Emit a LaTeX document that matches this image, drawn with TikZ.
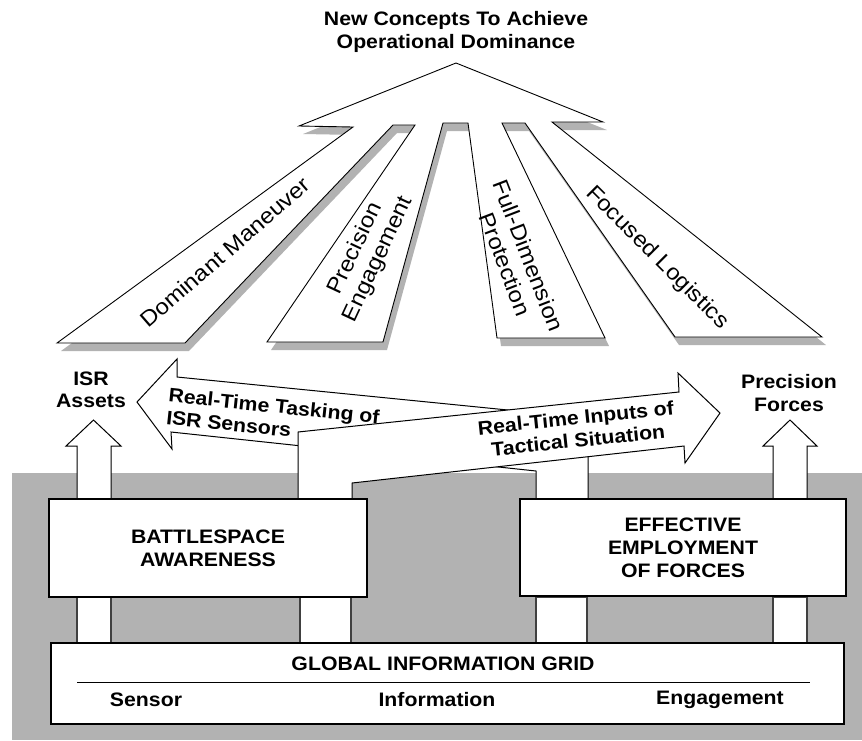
\documentclass[tikz,border=0pt]{standalone}
\usepackage{fontspec}
\setmainfont{Liberation Sans}[FakeStretch=1.09]
\usetikzlibrary{positioning,shadows}
\tikzset{
  fan/.style      = {fill=white, draw=black, line width=0.9pt, line join=miter,
                     drop shadow={fill=black!30, opacity=1, shadow xshift=4pt, shadow yshift=-8pt}},
  blockarrow/.style = {fill=white, draw=black, line width=1pt, line join=miter},
  post/.style     = {fill=white, draw=black!75, line width=1.2pt},
  bigbox/.style   = {draw, fill=white, line width=2pt, align=center,
                     font=\fontsize{19.5}{23}\selectfont\bfseries},
  caption/.style  = {align=center, font=\fontsize{19.5}{22.5}\selectfont\bfseries},
  concept/.style  = {align=center, font=\fontsize{22}{25}\selectfont},
}

\begin{document}
\begin{tikzpicture}[x=1pt,y=-1pt]
  \useasboundingbox (0,0) rectangle (862,740);
  \fill[black!30] (12,473) rectangle (862,740);

  % arrowhead with its five concepts
  \path[fan] (456,63) -- (603,122) -- (552,122) -- (822,337) -- (675,337)
    -- (525,123) -- (502,123) -- (605,338) -- (497,338) -- (468,123)
    -- (443,123) -- (383,342) -- (267,342) -- (415,125) -- (393,125)
    -- (185,343) -- (57,343) -- (353,127) -- (299,126) -- cycle;
  \node[caption] (title) at (456,32) {New Concepts To Achieve\\Operational Dominance};
  \node[concept, rotate=41] (dm) at (225,252) {Dominant Maneuver};
  \node[concept, rotate=65] (pe) at (367,254) {Precision\\Engagement};
  \node[concept, rotate=-69] (fdp) at (517,260) {Full-Dimension\\Protection};
  \node[concept, rotate=-45] (fl) at (657,258) {Focused Logistics};

  % posts down to the grid
  \draw[post] (77,597) rectangle (111,643);
  \draw[post] (300,597) rectangle (351,643);
  \draw[post] (536,597) rectangle (587,643);
  \draw[post] (773,597) rectangle (807,643);

  \path[blockarrow] (536,499) -- (536,471) -- (171,432) -- (172,449) -- (137,402)
    -- (177,359) -- (177,377) -- (588,418) -- (588,499);
  \path[blockarrow] (298,499) -- (298,432) -- (679,392) -- (678,373) -- (720,413)
    -- (685,463) -- (684,446) -- (352,483) -- (352,499);
  \path[blockarrow] (77,499) -- (77,446) -- (66,446) -- (93.5,420) -- (121,446)
    -- (111,446) -- (111,499);
  \path[blockarrow] (773,499) -- (773,446) -- (763,446) -- (790,420) -- (817,446)
    -- (807,446) -- (807,499);

  \node[caption] (isr) at (91,390) {ISR\\Assets};
  \node[caption] (pf) at (789,393) {Precision\\Forces};
  \node[caption, align=left, rotate=-6] (rtt) at (273,417) {Real-Time Tasking of\\ISR Sensors};
  \node[caption, rotate=6] (rti) at (577,429) {Real-Time Inputs of\\Tactical Situation};

  \node[bigbox, minimum width=318, minimum height=98] (bsa) at (208,548) {BATTLESPACE\\AWARENESS};
  \node[bigbox, minimum width=326, minimum height=97] (eef) at (683,547.5) {EFFECTIVE\\EMPLOYMENT\\OF FORCES};
  \node[bigbox, minimum width=793, minimum height=81] (gig) at (447.5,683.5) {};
  \node[caption] (gigt) at (443,664) {GLOBAL INFORMATION GRID};
  \draw[line width=1pt] (77,682) -- (810,682);
  \node[caption] (sen) at (146,700) {Sensor};
  \node[caption] (inf) at (437,700) {Information};
  \node[caption] (eng) at (720,700) {Engagement};
\end{tikzpicture}
\end{document}
